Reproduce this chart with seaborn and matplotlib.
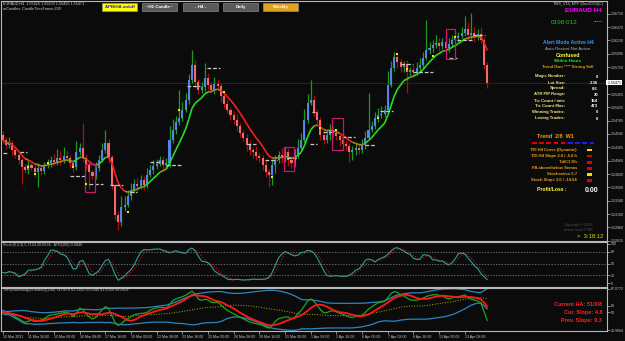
import matplotlib
matplotlib.use('Agg')
import matplotlib.pyplot as plt
from matplotlib.collections import LineCollection
from matplotlib.patches import Rectangle
import numpy as np
import pandas as pd
import seaborn as sns

# EURAUD H4 closes, 10 Mar 2021 08:00 onwards
first_open = 1.5452
closes = [1.5444, 1.5435, 1.5439, 1.5426, 1.5417, 1.5408, 1.5395, 1.5390, 1.5399, 1.5394,
          1.5386, 1.5394, 1.5388, 1.5399, 1.5403, 1.5408, 1.5404, 1.5412, 1.5408, 1.5415,
          1.5412, 1.5403, 1.5395, 1.5422, 1.5430, 1.5412, 1.5399, 1.5386, 1.5379, 1.5394,
          1.5408, 1.5426, 1.5439, 1.5413, 1.5363, 1.5309, 1.5296, 1.5322, 1.5327, 1.5343,
          1.5354, 1.5365, 1.5361, 1.5372, 1.5363, 1.5381, 1.5390, 1.5397, 1.5401, 1.5408,
          1.5399, 1.5403, 1.5444, 1.5462, 1.5476, 1.5484, 1.5498, 1.5516, 1.5552, 1.5579,
          1.5548, 1.5534, 1.5539, 1.5556, 1.5543, 1.5534, 1.5545, 1.5541, 1.5523, 1.5509,
          1.5498, 1.5489, 1.5480, 1.5469, 1.5457, 1.5448, 1.5435, 1.5426, 1.5422, 1.5415,
          1.5412, 1.5399, 1.5386, 1.5381, 1.5399, 1.5408, 1.5417, 1.5412, 1.5422, 1.5408,
          1.5403, 1.5417, 1.5430, 1.5444, 1.5480, 1.5511, 1.5516, 1.5494, 1.5480, 1.5453,
          1.5444, 1.5453, 1.5462, 1.5457, 1.5451, 1.5444, 1.5437, 1.5433, 1.5422, 1.5426,
          1.5430, 1.5426, 1.5435, 1.5448, 1.5462, 1.5469, 1.5484, 1.5489, 1.5491, 1.5498,
          1.5543, 1.5574, 1.5593, 1.5584, 1.5575, 1.5581, 1.5566, 1.5570, 1.5566, 1.5574,
          1.5579, 1.5592, 1.5606, 1.5610, 1.5615, 1.5619, 1.5613, 1.5620, 1.5610, 1.5617,
          1.5624, 1.5628, 1.5631, 1.5637, 1.5644, 1.5633, 1.5637, 1.5631, 1.5635, 1.5624,
          1.5579, 1.5547]
# wick lengths in pips beyond the candle body
wick_up = [8, 5, 10, 4, 6, 5, 3, 6, 8, 5, 4, 9, 6, 5, 7, 6, 10, 16, 12, 16,
           8, 5, 4, 20, 8, 45, 6, 5, 4, 10, 8, 12, 23, 6, 4, 3, 6, 20, 15, 10,
           12, 8, 10, 9, 6, 12, 8, 10, 9, 7, 6, 8, 25, 20, 10, 50, 15, 12, 10, 27,
           8, 6, 10, 27, 8, 6, 12, 9, 5, 6, 8, 5, 6, 10, 5, 4, 6, 8, 5, 10,
           6, 5, 8, 6, 10, 8, 6, 12, 9, 7, 6, 10, 16, 12, 20, 15, 36, 8, 6, 5,
           5, 8, 10, 6, 7, 5, 8, 6, 5, 6, 9, 7, 10, 12, 67, 8, 10, 12, 14, 9,
           25, 12, 10, 8, 6, 5, 7, 6, 8, 10, 12, 10, 54, 10, 8, 14, 9, 8, 12, 10,
           9, 11, 8, 10, 24, 12, 35, 10, 8, 12, 6, 5]
wick_dn = [6, 8, 5, 10, 6, 8, 30, 6, 8, 5, 9, 27, 8, 6, 5, 8, 6, 5, 9, 6,
           7, 8, 10, 5, 6, 8, 10, 30, 6, 5, 6, 4, 5, 10, 8, 10, 14, 8, 6, 5,
           8, 6, 10, 5, 9, 6, 5, 8, 6, 5, 10, 6, 8, 5, 7, 5, 6, 4, 8, 6,
           10, 8, 6, 7, 9, 5, 8, 6, 10, 8, 6, 9, 7, 10, 8, 6, 12, 9, 10, 7,
           8, 10, 9, 22, 18, 15, 6, 10, 8, 12, 10, 8, 6, 5, 4, 6, 5, 8, 10, 9,
           8, 6, 9, 10, 8, 12, 10, 8, 18, 14, 9, 7, 6, 8, 5, 4, 6, 8, 5, 6,
           5, 4, 6, 10, 8, 9, 38, 7, 8, 6, 6, 5, 4, 8, 7, 6, 9, 6, 10, 8,
           6, 5, 8, 4, 6, 9, 8, 10, 7, 6, 8, 10]

# grey level dashes: start bar, end bar, price
lvl_start = [0, 5.4, 21, 27, 33.5, 39.7, 46, 51, 57.4, 63.7, 76, 81.7, 88.6, 95.8,
             96.4, 99.8, 105.7, 113, 117.6, 124, 128, 139, 141.5, 146.5]
lvl_end = [1.4, 7.6, 26, 31.3, 37.5, 41.9, 50, 56, 61.5, 67.7, 79, 85.5, 91.7, 98,
           97.3, 103, 109.8, 116, 121.6, 128, 134, 141.5, 146.5, 150.3]
lvl_price = [1.5421, 1.5422, 1.5379, 1.5365, 1.5363, 1.5349, 1.5404, 1.5399, 1.5541, 1.5574,
             1.5437, 1.5408, 1.5412, 1.5437, 1.5494, 1.5458, 1.5449, 1.5435, 1.5496, 1.5581,
             1.5566, 1.5592, 1.5624, 1.5633]
# magenta boxes: bar range and price range
box_b0 = [25.7, 87.7, 102.6, 138.1]
box_b1 = [28.8, 90.8, 106.0, 141.0]
box_lo = [1.5349, 1.5388, 1.5426, 1.5590]
box_hi = [1.5401, 1.5431, 1.5484, 1.5644]
# yellow signal dots
dot_bar = [8, 10, 14, 22, 26, 39, 55, 69, 84, 99, 104, 117, 123, 126, 134, 141]
dot_price = [1.5395, 1.5383, 1.5403, 1.5395, 1.5365, 1.5314, 1.5498, 1.5530, 1.5377, 1.5466,
             1.5462, 1.5484, 1.5599, 1.5572, 1.5595, 1.5629]

price_ticks = [1.56710, 1.56470, 1.56230, 1.55990, 1.55750, 1.55265, 1.55025, 1.54785,
               1.54545, 1.54305, 1.54060, 1.53820, 1.53580, 1.53340, 1.53100, 1.52860, 1.52615]
date_labels = ['10 Mar 2021', '11 Mar 16:00', '15 Mar 00:00', '16 Mar 08:00', '17 Mar 16:00',
               '19 Mar 00:00', '22 Mar 08:00', '23 Mar 16:00', '25 Mar 00:00', '26 Mar 08:00',
               '29 Mar 16:00', '31 Mar 00:00', '1 Apr 08:00', '2 Apr 16:00', '6 Apr 00:00',
               '7 Apr 08:00', '8 Apr 16:00', '12 Apr 00:00', '13 Apr 08:00']

info_labels = ['Magic Number:', 'Lot Size:', 'Spread:', 'ATR PIP Range:', 'Tic Count / min:',
               'Tic Count Max:', 'Winning Trades:', 'Losing Trades:']
info_values = ['0', '2.36', '0.6', '20', '154', '473', '0', '0']
sig_labels = ['TDI H4 Cross (Dynamic)', 'TDI H4 Slope 2.0 / -5.8 h', 'TdiC1 Dh',
              'PA above/below Semas', 'Stochastics 5-7', 'Stoch Slope 3.0 / -14.64']
sig_colors = ['#f0e000', '#e00000', '#e00000', '#e00000', '#f0e000', '#e00000']
trend_colors = ['#e00000'] * 5 + ['#1a1aff'] * 4

BG = '#0b0b0b'
sns.set_style('dark', {'axes.facecolor': BG, 'figure.facecolor': BG})
plt.rcParams['font.family'] = ['Liberation Sans', 'DejaVu Sans']

# ---- derived series
df = pd.DataFrame({'close': closes})
df['bar'] = np.arange(len(df))
df['open'] = df['close'].shift(1).fillna(first_open)
df['high'] = df[['open', 'close']].max(axis=1) + np.array(wick_up) * 1e-4
df['low'] = df[['open', 'close']].min(axis=1) - np.array(wick_dn) * 1e-4
df['ma'] = df['close'].ewm(span=9).mean()

hh = df['high'].rolling(8, min_periods=1).max()
ll = df['low'].rolling(8, min_periods=1).min()
raw = 100 * (df['close'] - ll) / (hh - ll)
df['k'] = raw.rolling(3, min_periods=1).mean()
df['d'] = df['k'].rolling(3, min_periods=1).mean()

delta = df['close'].diff().fillna(0)
seed = delta.abs().mean() / 2
gain = pd.concat([pd.Series([seed]), delta.clip(lower=0)]).ewm(alpha=1 / 13, adjust=False).mean().iloc[1:].values
loss = pd.concat([pd.Series([seed]), (-delta).clip(lower=0)]).ewm(alpha=1 / 13, adjust=False).mean().iloc[1:].values
rsi = pd.Series(100 - 100 / (1 + gain / loss))
df['tdi_green'] = rsi.rolling(2, min_periods=1).mean()
df['tdi_red'] = rsi.rolling(7, min_periods=1).mean()
df['tdi_base'] = rsi.rolling(34, min_periods=1).mean()
sd = rsi.rolling(34, min_periods=3).std().bfill()
df['tdi_up'] = df['tdi_base'] + 1.6185 * sd
df['tdi_dn'] = df['tdi_base'] - 1.6185 * sd

# ---- figure
W, H = 625, 341
fig = plt.figure(figsize=(W / 100, H / 100), dpi=100, facecolor=BG)


def panel(x0, y0, x1, y1):
    a = fig.add_axes([x0 / W, 1 - y1 / H, (x1 - x0) / W, (y1 - y0) / H])
    a.set_facecolor(BG)
    a.set_xlim(-0.5, 188.3)
    for s in a.spines.values():
        s.set_color('#b8b8b8')
        s.set_linewidth(0.8)
    a.grid(False)
    a.set_xticks([])
    a.set_xlabel('')
    a.set_ylabel('')
    return a


def txt(x, y, s, color, size, ha='left', bold=False, **kw):
    fig.text(x / W, 1 - y / H, s, color=color, fontsize=size, ha=ha, va='center',
             fontweight='bold' if bold else 'normal', **kw)


ax = panel(1, 1, 607, 241)
ax_st = panel(1, 242, 607, 287)
ax_td = panel(1, 288, 607, 331)

# candles
bull = df['close'] >= df['open']
ax.vlines(df['bar'], df['low'], df['high'], colors=np.where(bull, '#1c9a1c', '#a81010'),
          linewidth=0.9, zorder=2)
body_h = (df['close'] - df['open']).abs().clip(lower=0.00008)
ax.bar(df['bar'], body_h, bottom=df[['open', 'close']].min(axis=1), width=0.64,
       color=np.where(bull, '#4f86e8', '#f46868'), linewidth=0, zorder=3)

# trend MA coloured by slope
pts = np.column_stack([df['bar'], df['ma']])
segs = np.stack([pts[:-1], pts[1:]], axis=1)
slope = np.diff(df['ma'].values)
seg_cols = np.where(slope > 0.0003, '#22e022', np.where(slope < -0.0003, '#ff1c1c', '#a08a20'))
ax.add_collection(LineCollection(segs, colors=seg_cols, linewidths=1.2, zorder=4))

for b0, b1, p in zip(lvl_start, lvl_end, lvl_price):
    ax.plot([b0, b1], [p, p], color='#c8c8c8', lw=0.9, ls=(0, (3, 1.5)), zorder=5)
for b0, b1, lo, hi in zip(box_b0, box_b1, box_lo, box_hi):
    ax.add_patch(Rectangle((b0, lo), b1 - b0, hi - lo, fill=False, ec='#c8186a', lw=0.9, zorder=5))
ax.scatter(dot_bar, dot_price, s=3, marker='s', color='#f0f000', zorder=6, linewidths=0)

ax.axhline(closes[-1], color='#2a2a2a', lw=0.6, zorder=1)
ax.set_ylim(1.52622, 1.56942)
ax.yaxis.tick_right()
ax.set_yticks(price_ticks)
ax.set_yticklabels(['%.5f' % p for p in price_ticks])
ax.tick_params(axis='y', colors='#b8b8b8', labelcolor='#c8c8c8', labelsize=2.6, length=2,
               width=0.5, pad=1, right=True)
ax.text(1.0, closes[-1], ' %.5f' % 1.55471, transform=ax.get_yaxis_transform(),
        fontsize=2.6, color='black', va='center', ha='left',
        bbox=dict(boxstyle='square,pad=0.15', fc='white', ec='none'))

# stochastic panel
ax_st.set_ylim(-10, 105)
for lv in [80, 50, 20]:
    ax_st.axhline(lv, color='#8a8a8a', lw=0.5, ls=(0, (2, 2)))
sns.lineplot(data=df, x='bar', y='d', ax=ax_st, color='#c01818', lw=0.8, linestyle=':')
sns.lineplot(data=df, x='bar', y='k', ax=ax_st, color='#2f9e96', lw=0.8)
ax_st.set_xlim(-0.5, 188.3)
ax_st.set_xlabel('')
ax_st.set_ylabel('')
ax_st.yaxis.tick_right()
ax_st.set_yticks([100, 80, 50, 20, 0])
ax_st.set_yticklabels(['100', '80', '50', '20', '0'])
ax_st.tick_params(axis='y', colors='#b8b8b8', labelcolor='#c8c8c8', labelsize=2.6, length=2,
                  width=0.5, pad=1, right=True)

# TDI panel
sns.lineplot(data=df, x='bar', y='tdi_up', ax=ax_td, color='#2b86c0', lw=0.9)
sns.lineplot(data=df, x='bar', y='tdi_dn', ax=ax_td, color='#2b86c0', lw=0.9)
sns.lineplot(data=df, x='bar', y='tdi_base', ax=ax_td, color='#b5b000', lw=0.7, linestyle=':')
sns.lineplot(data=df, x='bar', y='tdi_green', ax=ax_td, color='#1fa51f', lw=0.9)
sns.lineplot(data=df, x='bar', y='tdi_red', ax=ax_td, color='#ff1a1a', lw=1.3)
lo = df[['tdi_dn', 'tdi_green']].min().min()
hi = df[['tdi_up', 'tdi_green']].max().max()
ax_td.set_ylim(lo - 1, hi + 1)
ax_td.set_xlim(-0.5, 188.3)
ax_td.set_ylabel('')
ax_td.yaxis.tick_right()
ax_td.set_yticks([hi, 60, 50, lo])
ax_td.set_yticklabels(['%.4f' % hi, '60', '50', '%.4f' % lo])
ax_td.tick_params(axis='y', colors='#b8b8b8', labelcolor='#c8c8c8', labelsize=2.6, length=2,
                  width=0.5, pad=1, right=True)
ax_td.set_xticks(np.arange(0, 8 * len(date_labels), 8))
ax_td.set_xticklabels(date_labels, ha='left')
ax_td.tick_params(axis='x', colors='#b8b8b8', labelcolor='#c8c8c8', labelsize=2.6, length=2,
                  width=0.5, pad=1, bottom=True)
ax_td.set_xlabel('')

# ---- text overlays
txt(3, 4, 'EURAUD,H4  1.55625 1.55633 1.55456 1.55471', '#d0d0d0', 2.7)
txt(3, 9.5, 'mCandles: CandleTimeFrame:240', '#d0d0d0', 2.7)
buttons = [('APB/HA on/off', 102, '#ffff00', '#1c1cc8'), ('~H1 Candle~', 142, '#5a5a5a', 'white'),
           ('- H4 -', 183, '#5a5a5a', 'white'), ('Daily', 223, '#5a5a5a', 'white'),
           ('Weekly', 263, '#e0a020', 'white')]
for label, bx, fc, tc in buttons:
    fig.patches.append(Rectangle((bx / W, 1 - 10.5 / H), 35 / W, 7.5 / H, transform=fig.transFigure,
                                 fc=fc, ec='#9a9a9a', lw=0.4))
    txt(bx + 17.5, 6.8, label, tc, 3.2, ha='center', bold=True)

txt(603, 4, 'TMS_V19_MTF (Dec2020)(C)', '#c8c8c8', 2.7, ha='right')
txt(602, 11, 'EURAUD H4', '#ff00ff', 4.6, ha='right', bold=True)
txt(564, 22, '0198:012', '#22c022', 4.6, ha='center')
txt(598, 20.5, '.....', '#e0b000', 4.5, ha='center', bold=True)

txt(568, 43, 'Alert Mode Active H4', '#3399ff', 3.6, ha='center', bold=True)
txt(568, 49.5, 'Auto Restart Not Active', '#b0b0b0', 3.2, ha='center')
txt(568, 55.5, 'Confused', '#ffff40', 3.8, ha='center', bold=True)
txt(568, 61, 'Within Hours', '#22ee22', 3.2, ha='center', bold=True)
txt(568, 67, 'Trend Dwn **** Strong Sell', '#e0a020', 3.0, ha='center', bold=True)
for k, (lab, val) in enumerate(zip(info_labels, info_values)):
    yy = 76.5 + 6 * k
    txt(565, yy, lab, '#f0e68c', 3.1, ha='right', bold=True)
    txt(598, yy, val, 'white', 3.1, ha='right', bold=True)

txt(555, 137, 'Trend  2/8  W1', '#e8a020', 4.0, ha='center', bold=True)
for k, c in enumerate(trend_colors):
    fig.patches.append(Rectangle(((532 + 7.2 * k) / W, 1 - 144 / H), 4.5 / W, 2 / H,
                                 transform=fig.transFigure, fc=c, ec='none'))
for k, (lab, c) in enumerate(zip(sig_labels, sig_colors)):
    yy = 150 + 6.1 * k
    txt(577, yy, lab, '#e8a020', 3.0, ha='right', bold=True)
    fig.patches.append(Rectangle((587 / W, 1 - (yy + 1.3) / H), 4.5 / W, 2.6 / H,
                                 transform=fig.transFigure, fc=c, ec='none'))
txt(537, 190, 'Profit/Loss :', '#ffff40', 3.6, bold=True)
txt(598, 191, '0.00', 'white', 5.0, ha='right', bold=True)
txt(579, 225, 'Copyright©2016', '#4a4a4a', 3.0, ha='center')
txt(579, 230, 'armenmust7788', '#4a4a4a', 3.0, ha='center')
txt(603, 236.5, '>  3:18:12', '#d8d820', 4.2, ha='right')

txt(3, 245, 'Stoch(8,3,3) 5.7124 20.6636   ATR(100) 0.0040', '#c0c0c0', 2.7)
txt(3, 290.5, 'TMS(StochDog(EURAUD)(240) 74.0878 62.1162 50.1546 41.4339 56.2908', '#c0c0c0', 2.7)
txt(602, 304.5, 'Current HA: 51/0/8', '#ff2020', 4.0, ha='right', bold=True)
txt(602, 312.5, 'Cur. Slope: 4.8', '#ff2020', 4.0, ha='right', bold=True)
txt(602, 320.5, 'Prev. Slope: 9.3', '#ff2020', 4.0, ha='right', bold=True)

fig.savefig('out.png', dpi=100, facecolor=BG)
